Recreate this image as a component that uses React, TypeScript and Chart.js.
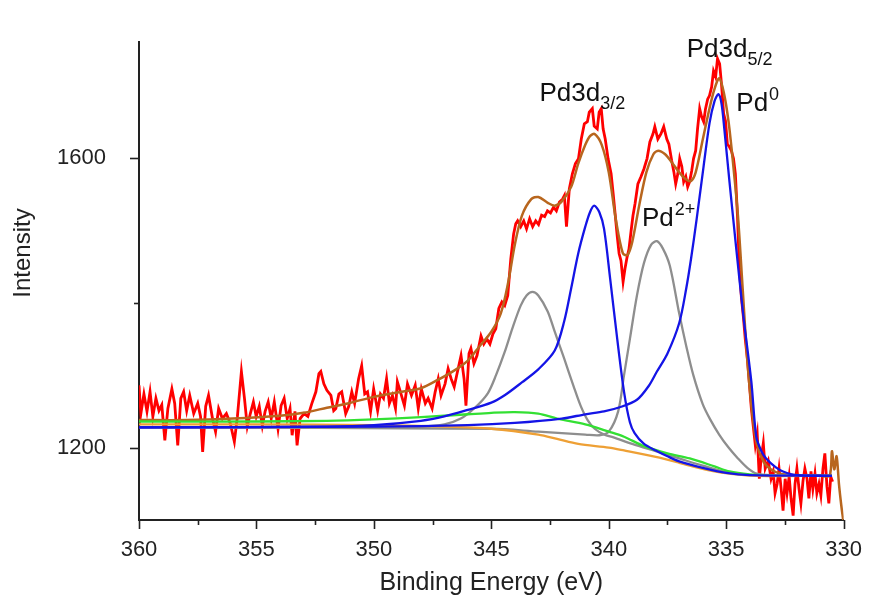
import React, { useEffect, useRef } from 'react';
import { Chart, registerables } from 'chart.js';

Chart.register(...registerables);

// ---------- DATA (binding energy eV, intensity) ----------
const rawCounts: [number, number][] = [
  [360.0, 1286], [359.92, 1247], [359.79, 1274], [359.66, 1250], [359.53, 1277], [359.41, 1243],
  [359.28, 1268], [359.15, 1251], [359.03, 1259], [358.9, 1210], [358.77, 1254], [358.6, 1281],
  [358.48, 1261], [358.35, 1203], [358.22, 1268], [358.1, 1277], [357.97, 1251], [357.84, 1272],
  [357.67, 1247], [357.5, 1261], [357.38, 1243], [357.29, 1194], [357.16, 1257], [357.04, 1272],
  [356.87, 1240], [356.74, 1222], [356.61, 1254], [356.45, 1240], [356.28, 1247], [356.11, 1233],
  [355.94, 1208], [355.81, 1243], [355.64, 1305], [355.51, 1268], [355.39, 1229], [355.26, 1247],
  [355.13, 1263], [355.01, 1243], [354.88, 1257], [354.75, 1230], [354.63, 1250], [354.5, 1263],
  [354.37, 1240], [354.24, 1263], [354.08, 1226], [353.95, 1258], [353.82, 1268], [353.69, 1240],
  [353.57, 1254], [353.48, 1217], [353.36, 1250], [353.27, 1203], [353.14, 1240], [352.97, 1247],
  [352.81, 1243], [352.64, 1261], [352.47, 1277], [352.34, 1302], [352.26, 1305], [352.13, 1288],
  [352.0, 1279], [351.83, 1272], [351.71, 1251], [351.62, 1254], [351.49, 1274], [351.37, 1277],
  [351.2, 1247], [351.07, 1257], [350.94, 1277], [350.82, 1261], [350.65, 1295], [350.52, 1313],
  [350.39, 1274], [350.27, 1277], [350.14, 1250], [350.01, 1281], [349.84, 1251], [349.72, 1274],
  [349.59, 1268], [349.46, 1295], [349.34, 1261], [349.21, 1272], [349.08, 1254], [349.0, 1291],
  [348.87, 1277], [348.7, 1258], [348.57, 1288], [348.4, 1272], [348.24, 1286], [348.11, 1254],
  [347.98, 1281], [347.81, 1261], [347.69, 1268], [347.52, 1254], [347.39, 1277], [347.26, 1295],
  [347.14, 1272], [346.97, 1288], [346.84, 1309], [346.71, 1295], [346.58, 1284], [346.46, 1302],
  [346.29, 1327], [346.16, 1295], [346.08, 1258], [345.95, 1330], [345.87, 1337], [345.74, 1316],
  [345.61, 1327], [345.44, 1354], [345.32, 1343], [345.19, 1350], [345.06, 1343], [344.93, 1357],
  [344.81, 1364], [344.68, 1392], [344.55, 1401], [344.43, 1396], [344.3, 1410], [344.17, 1461],
  [344.05, 1495], [343.96, 1509], [343.88, 1513], [343.75, 1505], [343.62, 1513], [343.5, 1502],
  [343.37, 1516], [343.24, 1505], [343.11, 1513], [342.99, 1508], [342.86, 1521], [342.73, 1519],
  [342.61, 1527], [342.48, 1524], [342.35, 1532], [342.23, 1527], [342.1, 1539], [341.97, 1543],
  [341.89, 1548], [341.8, 1505], [341.68, 1557], [341.55, 1578], [341.42, 1592], [341.29, 1599],
  [341.17, 1626], [341.04, 1647], [340.91, 1650], [340.83, 1663], [340.7, 1668], [340.62, 1644],
  [340.49, 1640], [340.41, 1663], [340.32, 1668], [340.24, 1640], [340.15, 1626], [340.03, 1599],
  [339.9, 1578], [339.81, 1550], [339.73, 1523], [339.64, 1492], [339.56, 1468], [339.48, 1458],
  [339.39, 1429], [339.31, 1447], [339.22, 1463], [339.14, 1474], [339.05, 1499], [338.97, 1520],
  [338.88, 1537], [338.76, 1564], [338.63, 1574], [338.5, 1585], [338.37, 1599], [338.25, 1622],
  [338.12, 1633], [338.04, 1643], [337.91, 1626], [337.78, 1633], [337.66, 1643], [337.53, 1626],
  [337.44, 1619], [337.32, 1596], [337.23, 1581], [337.15, 1564], [337.06, 1578], [336.98, 1599],
  [336.89, 1588], [336.81, 1567], [336.72, 1574], [336.64, 1560], [336.56, 1567], [336.47, 1582],
  [336.39, 1599], [336.3, 1610], [336.22, 1640], [336.13, 1668], [336.05, 1657], [335.96, 1650],
  [335.88, 1668], [335.79, 1681], [335.71, 1686], [335.62, 1698], [335.54, 1720], [335.45, 1712],
  [335.37, 1737], [335.28, 1730], [335.2, 1702], [335.11, 1661], [335.03, 1651], [334.95, 1619],
  [334.86, 1615], [334.78, 1610], [334.69, 1599], [334.61, 1578], [334.52, 1520], [334.44, 1447],
  [334.35, 1406], [334.27, 1381], [334.19, 1350], [334.1, 1323], [334.02, 1291], [333.93, 1254],
  [333.86, 1233], [333.76, 1203], [333.68, 1219], [333.59, 1157], [333.51, 1185], [333.42, 1206],
  [333.34, 1171], [333.21, 1182], [333.09, 1157], [333.0, 1167], [332.92, 1137], [332.83, 1150],
  [332.75, 1171], [332.66, 1143], [332.58, 1113], [332.49, 1157], [332.41, 1137], [332.32, 1160],
  [332.24, 1130], [332.15, 1106], [332.07, 1150], [331.99, 1171], [331.9, 1143], [331.82, 1123],
  [331.73, 1154], [331.65, 1171], [331.56, 1157], [331.48, 1130], [331.39, 1167], [331.31, 1143],
  [331.22, 1164], [331.14, 1137], [331.05, 1150], [330.97, 1134], [330.88, 1171], [330.8, 1192],
  [330.71, 1146], [330.63, 1123], [330.55, 1160], [330.47, 1153],
];

const envelopeFit: [number, number][] = [
  [360, 1238], [358, 1238], [356, 1240], [354, 1244], [353, 1248], [352, 1255], [351, 1262],
  [350, 1270], [349, 1276], [348, 1282], [347.3, 1293], [346.5, 1308], [346, 1320], [345.5, 1340],
  [345, 1360], [344.6, 1385], [344.3, 1425], [344, 1480], [343.7, 1520], [343.3, 1543], [343, 1546],
  [342.6, 1538], [342.3, 1534], [342, 1540], [341.6, 1560], [341.3, 1592], [341, 1618], [340.8, 1630],
  [340.6, 1633], [340.3, 1618], [340, 1580], [339.7, 1515], [339.4, 1468], [339.2, 1466], [339, 1484],
  [338.7, 1535], [338.4, 1580], [338.1, 1605], [337.9, 1610], [337.6, 1605], [337.3, 1593], [337, 1580],
  [336.7, 1570], [336.5, 1568], [336.3, 1580], [336, 1625], [335.7, 1670], [335.5, 1695], [335.3, 1710],
  [335.1, 1690], [334.9, 1650], [334.7, 1590], [334.5, 1520], [334.3, 1420], [334.1, 1320], [333.9, 1250],
  [333.7, 1205], [333.4, 1180], [333.1, 1170], [332.7, 1164], [332, 1162], [331, 1161], [330.6, 1161],
  [330.5, 1195], [330.4, 1170], [330.3, 1188], [330.2, 1150], [330.1, 1120], [330.02, 1100],
];

const pd0Peak32: [number, number][] = [
  [360, 1228], [352, 1229], [350, 1231], [348, 1237], [347, 1243], [346, 1252], [345, 1262],
  [344.4, 1273], [343.7, 1290], [343, 1308], [342.3, 1334], [341.9, 1374], [341.6, 1420], [341.3, 1468],
  [341, 1505], [340.8, 1525], [340.62, 1534], [340.4, 1525], [340.2, 1502], [339.94, 1433], [339.64, 1350],
  [339.35, 1277], [339.1, 1235], [338.9, 1220], [338.5, 1205], [338, 1196], [337.5, 1188], [337, 1181],
  [336, 1172], [335, 1165], [334, 1162], [330.5, 1161],
];

const pd0Peak52: [number, number][] = [
  [360, 1228], [350, 1229], [346, 1231], [344, 1234], [342, 1240], [341, 1246], [340.2, 1250],
  [339.5, 1256], [338.8, 1266], [338.3, 1285], [337.95, 1305], [337.5, 1330], [337, 1372], [336.7, 1420],
  [336.5, 1460], [336.26, 1515], [335.96, 1589], [335.71, 1648], [335.5, 1678], [335.33, 1688],
  [335.2, 1675], [335.08, 1640], [334.86, 1567], [334.57, 1474], [334.27, 1382], [333.93, 1291],
  [333.72, 1215], [333.5, 1195], [333.3, 1185], [332.9, 1173], [332.58, 1167], [332, 1162], [330.5, 1161],
];

const pd2Peak32: [number, number][] = [
  [360, 1228], [350, 1228], [348, 1229], [347, 1232], [346.3, 1240], [345.7, 1255], [345.15, 1275],
  [344.8, 1300], [344.43, 1332], [344.1, 1365], [343.75, 1396], [343.5, 1410], [343.25, 1415],
  [343, 1410], [342.6, 1388], [342.3, 1360], [341.9, 1323], [341.5, 1285], [341.2, 1258], [340.9, 1238],
  [340.6, 1226], [340.2, 1218], [339.8, 1214], [339, 1205], [338, 1195], [337, 1185], [336, 1175],
  [335, 1166], [334, 1162], [330.5, 1161],
];

const pd2Peak52: [number, number][] = [
  [360, 1228], [345, 1226], [343, 1222], [341, 1218], [340.4, 1217], [340, 1222], [339.6, 1250],
  [339.35, 1300], [339.1, 1350], [338.8, 1410], [338.5, 1455], [338.2, 1480], [337.95, 1485],
  [337.7, 1475], [337.4, 1451], [337, 1385], [336.7, 1340], [336.4, 1300], [336, 1260], [335.7, 1240],
  [335.3, 1218], [334.9, 1200], [334.5, 1185], [334.1, 1172], [333.7, 1164], [333, 1162], [330.5, 1161],
];

const shirleyBg: [number, number][] = [
  [360, 1236], [355, 1236], [352, 1237], [350, 1239], [348, 1242], [346, 1246], [345, 1248],
  [344, 1249], [343, 1247], [342.2, 1240], [341, 1232], [340, 1222], [339.35, 1215], [338.5, 1202],
  [337.5, 1192], [336.55, 1185], [335.5, 1174], [334.86, 1167], [334, 1163], [333, 1161], [330.5, 1161],
];

const linearBg: [number, number][] = [
  [360, 1232], [355, 1232], [350, 1231], [347, 1229], [345, 1226], [343, 1218], [342.2, 1212],
  [341.3, 1205], [340, 1200], [339.35, 1196], [338, 1187], [337, 1179], [336.55, 1175], [335.5, 1167],
  [334.86, 1164], [333.7, 1161], [330.5, 1161],
];

const peakLabels = [
  { main: 'Pd3d', sub: '5/2', sup: '', e: 336.68, i: 1739 },
  { main: 'Pd3d', sub: '3/2', sup: '', e: 342.95, i: 1679 },
  { main: 'Pd', sub: '', sup: '0', e: 334.57, i: 1665 },
  { main: 'Pd', sub: '', sup: '2+', e: 338.59, i: 1506 },
];

const X_RANGE = [330, 360];
const Y_RANGE = [1100, 1760];
const X_TITLE = 'Binding Energy (eV)';
const Y_TITLE = 'Intensity';

const FONT = '"Liberation Sans", Arial, Helvetica, sans-serif';

const toXY = (arr: [number, number][]) => arr.map(([x, y]) => ({ x, y }));

const decorPlugin = {
  id: 'decor',
  afterDraw(chart: any) {
    const { ctx, chartArea, scales } = chart;
    const xs = scales.x;
    const ys = scales.y;
    ctx.save();
    ctx.strokeStyle = '#222';
    ctx.lineWidth = 1.6;
    xs.ticks.forEach((t: any) => {
      const major = Math.abs(t.value % 5) < 1e-6;
      const px = Math.round(xs.getPixelForValue(t.value)) + 0.5;
      ctx.beginPath();
      ctx.moveTo(px, chartArea.bottom);
      ctx.lineTo(px, chartArea.bottom + (major ? 9 : 5));
      ctx.stroke();
    });
    ys.ticks.forEach((t: any) => {
      const major = Math.abs(t.value % 400) < 1e-6;
      const py = Math.round(ys.getPixelForValue(t.value)) + 0.5;
      ctx.beginPath();
      ctx.moveTo(chartArea.left, py);
      ctx.lineTo(chartArea.left - (major ? 9 : 5), py);
      ctx.stroke();
    });
    // peak labels
    ctx.fillStyle = '#111';
    ctx.textBaseline = 'alphabetic';
    ctx.textAlign = 'left';
    peakLabels.forEach((l) => {
      const px = xs.getPixelForValue(l.e);
      const py = ys.getPixelForValue(l.i);
      ctx.font = `26px ${FONT}`;
      ctx.fillText(l.main, px, py);
      const w = ctx.measureText(l.main).width;
      ctx.font = `18px ${FONT}`;
      if (l.sub) ctx.fillText(l.sub, px + w, py + 8);
      if (l.sup) ctx.fillText(l.sup, px + w + 1, py - 11);
    });
    // y title
    ctx.save();
    ctx.translate(23, 253);
    ctx.rotate(-Math.PI / 2);
    ctx.font = `24px ${FONT}`;
    ctx.textAlign = 'center';
    ctx.textBaseline = 'middle';
    ctx.fillStyle = '#222';
    ctx.fillText(Y_TITLE, 0, 0);
    ctx.restore();
    ctx.restore();
  },
};

export default function App() {
  const ref = useRef<HTMLCanvasElement>(null);
  useEffect(() => {
    if (!ref.current) return;
    const line = (data: [number, number][], color: string, width: number) => ({
      data: toXY(data),
      borderColor: color,
      backgroundColor: color,
      borderWidth: width,
      pointRadius: 0,
      tension: 0.3,
      fill: false,
    });
    const chart = new Chart(ref.current, {
      type: 'line',
      data: {
        datasets: [
          { label: 'Pd0 5/2', ...line(pd0Peak52, '#1414e6', 2.3) },
          { label: 'Pd0 3/2', ...line(pd0Peak32, '#1414e6', 2.3) },
          { label: 'linear bg', ...line(linearBg, '#eea035', 2.3) },
          { label: 'shirley bg', ...line(shirleyBg, '#33e033', 2.3) },
          { label: 'Pd2+ 5/2', ...line(pd2Peak52, '#8e8e8e', 2.3) },
          { label: 'Pd2+ 3/2', ...line(pd2Peak32, '#8e8e8e', 2.3) },
          { label: 'Envelope', ...line(envelopeFit, '#b8661e', 2.5) },
          { label: 'Raw', ...line(rawCounts, '#ff0000', 2.8), tension: 0 },
        ],
      },
      options: {
        animation: false,
        responsive: false,
        parsing: false as any,
        layout: { padding: { top: 42, right: 22, left: 0, bottom: 0 } },
        plugins: { legend: { display: false }, tooltip: { enabled: false } },
        scales: {
          x: {
            type: 'linear',
            reverse: true,
            min: X_RANGE[0],
            max: X_RANGE[1],
            afterFit: (s: any) => { s.height = 80; },
            grid: { display: false, drawTicks: true, tickLength: 9 },
            border: { display: true, color: '#222', width: 2 },
            ticks: {
              stepSize: 2.5,
              autoSkip: false,
              maxRotation: 0,
              padding: 8,
              color: '#222',
              font: { family: FONT, size: 22 },
              callback: (v: any) => (Math.abs(Number(v) % 5) < 1e-6 ? String(v) : ''),
            },
            title: {
              display: true,
              text: X_TITLE,
              color: '#222',
              font: { family: FONT, size: 25 },
              padding: { top: 0, bottom: 2 },
            },
          },
          y: {
            type: 'linear',
            min: Y_RANGE[0],
            max: Y_RANGE[1],
            afterFit: (s: any) => { s.width = 139; },
            grid: { display: false, drawTicks: true, tickLength: 9 },
            border: { display: true, color: '#222', width: 2 },
            ticks: {
              stepSize: 200,
              includeBounds: false,
              autoSkip: false,
              padding: 24,
              color: '#222',
              font: { family: FONT, size: 22 },
              callback: (v: any) => (Math.abs(Number(v) % 400) < 1e-6 ? String(v) : ''),
            },
          },
        },
      },
      plugins: [decorPlugin],
    });
    return () => chart.destroy();
  }, []);
  return (
    <div style={{ position: 'absolute', left: 0, top: 0, width: 870, height: 600, background: '#fff' }}>
      <canvas ref={ref} width={870} height={600} />
    </div>
  );
}
